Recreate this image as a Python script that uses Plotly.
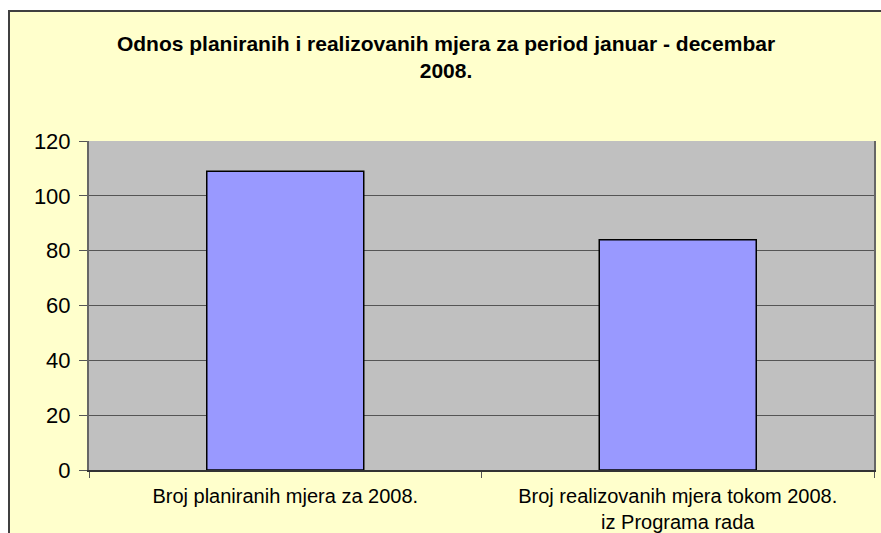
import plotly.graph_objects as go

categories = ["Broj planiranih mjera za 2008.", "Broj realizovanih mjera tokom 2008.<br>iz Programa rada"]
values = [109, 84]
y_ticks = [0, 20, 40, 60, 80, 100, 120]

W, H = 881, 533
L, R, T, B = 89, 7, 141, 63
pw, ph = W - L - R, H - T - B

def px_x(x):
    return (x - L) / pw

def px_y(y):
    return (H - B - y) / ph

fig = go.Figure(go.Bar(
    x=categories, y=values,
    marker=dict(color="#9999FF", line=dict(color="#000000", width=1.5)),
    width=0.4,
))

fig.add_shape(type="rect", xref="paper", yref="paper",
              x0=px_x(9), y0=px_y(11), x1=px_x(900), y1=px_y(560),
              fillcolor="#FFFFCC", line=dict(color="#404040", width=2), layer="below")
fig.add_shape(type="rect", xref="paper", yref="paper",
              x0=0, y0=0, x1=1, y1=1,
              fillcolor="#C0C0C0", line=dict(width=0), layer="below")

fig.update_layout(
    width=W, height=H,
    margin=dict(l=L, r=R, t=T, b=B, autoexpand=False),
    paper_bgcolor="#FFFFFF",
    plot_bgcolor="#C0C0C0",
    font=dict(family="Liberation Sans, Arial, sans-serif", color="#000000"),
    title=dict(
        text="<b>Odnos planiranih i realizovanih mjera za period januar - decembar<br>2008.</b>",
        x=446 / W, xanchor="center", y=1 - 51 / H, yanchor="middle",
        font=dict(size=21),
    ),
    showlegend=False,
    bargap=0.6,
)
fig.update_yaxes(
    range=[0, 120], tickvals=y_ticks,
    showgrid=True, gridcolor="#555555", gridwidth=1,
    ticks="outside", ticklen=8, tickcolor="#555555",
    ticklabelstandoff=4, automargin=False,
    showline=True, linecolor="#666666", linewidth=2, mirror=True,
    tickfont=dict(size=22), zeroline=False,
)
fig.update_xaxes(
    tickson="boundaries", ticks="outside", ticklen=6, tickcolor="#555555",
    ticklabelstandoff=7, automargin=False,
    showline=True, linecolor="#333333", linewidth=2,
    tickfont=dict(size=20), showgrid=False,
)

fig.write_html("out.html", config={"displayModeBar": False},
               post_script="document.body.style.margin='0';")
